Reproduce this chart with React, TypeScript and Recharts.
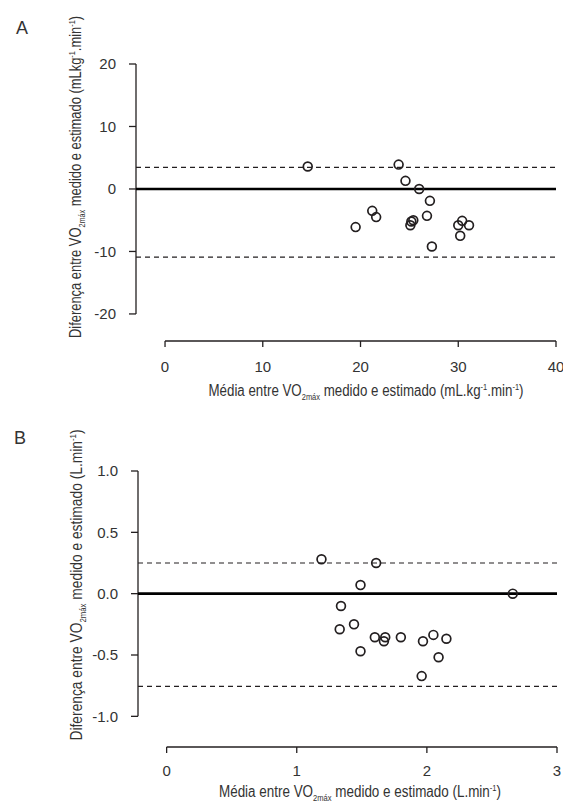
import React from "react";
import {
  ReferenceLine,
  Scatter,
  ScatterChart,
  XAxis,
  YAxis,
} from "recharts";

/* Bland-Altman: VO2max medido vs estimado. Painel A relativo, painel B absoluto. */

const FONT = '"Liberation Sans", Arial, sans-serif';
const INK = "#231f20";
const TEXT = "#333";

// Painel A (mL.kg-1.min-1)
const meanA = [14.6, 23.9, 24.6, 26.0, 27.1, 21.2, 21.6, 19.5, 26.8, 25.4, 25.2, 25.1, 27.3, 30.4, 30.0, 31.1, 30.2];
const diffA = [3.6, 3.9, 1.3, 0.0, -1.9, -3.5, -4.5, -6.1, -4.3, -5.0, -5.2, -5.8, -9.2, -5.1, -5.8, -5.8, -7.5];
const limitsA = [3.45, -10.9];
const xTicksA = [0, 10, 20, 30, 40];
const yTicksA = [-20, -10, 0, 10, 20];

// Painel B (L.min-1)
const meanB = [1.19, 1.61, 1.49, 2.66, 1.34, 1.33, 1.44, 1.49, 1.6, 1.67, 1.68, 1.8, 1.97, 2.05, 2.15, 2.09, 1.96];
const diffB = [0.28, 0.25, 0.07, 0.0, -0.1, -0.29, -0.25, -0.47, -0.355, -0.388, -0.355, -0.355, -0.388, -0.336, -0.368, -0.518, -0.672];
const limitsB = [0.25, -0.756];
const xTicksB = [0, 1, 2, 3];
const yTicksB = [-1.0, -0.5, 0.0, 0.5, 1.0];

const toPoints = (xs: number[], ys: number[]) => xs.map((x, i) => ({ x, y: ys[i] }));

const OpenCircle = (props: any) => (
  <circle cx={props.cx} cy={props.cy} r={4.4} fill="none" stroke={INK} strokeWidth={1.7} />
);

const tickStyle = { fill: TEXT, fontSize: 15, fontFamily: FONT };

function UnitTail({ unit }: { unit: "a" | "b" | "ay" }) {
  if (unit === "b") {
    return (
      <>
        <tspan>L.min</tspan>
        <tspan fontSize={9} dy={-6}>-1</tspan>
        <tspan dy={6}>)</tspan>
      </>
    );
  }
  return (
    <>
      <tspan>{unit === "ay" ? "mLkg" : "mL.kg"}</tspan>
      <tspan fontSize={9} dy={-6}>-1</tspan>
      <tspan dy={6}>.min</tspan>
      <tspan fontSize={9} dy={-6}>-1</tspan>
      <tspan dy={6}>)</tspan>
    </>
  );
}

function Title(props: {
  x: number;
  y: number;
  len: number;
  lead: string;
  unit: "a" | "b" | "ay";
  vertical?: boolean;
}) {
  const { x, y, len, lead, unit, vertical } = props;
  return (
    <text
      x={x}
      y={y}
      transform={vertical ? `rotate(-90, ${x}, ${y})` : undefined}
      textAnchor="middle"
      fill={TEXT}
      fontSize={16}
      fontFamily={FONT}
      textLength={len}
      lengthAdjust="spacingAndGlyphs"
    >
      <tspan>{lead} VO</tspan>
      <tspan fontSize={9} dy={4}>2máx</tspan>
      <tspan dy={-4}> medido e estimado (</tspan>
      <UnitTail unit={unit} />
    </text>
  );
}

function Panel(props: {
  height: number;
  top: number;
  right: number;
  yWidth: number;
  xDomain: [number, number];
  yDomain: [number, number];
  xTicks: number[];
  yTicks: number[];
  data: { x: number; y: number }[];
  limits: number[];
  xAxisHeight: number;
  xTickMargin: number;
  yFormat: (v: number) => string;
  xTitle: React.ReactNode;
  yTitle: React.ReactNode;
}) {
  const p = props;
  const yMin = p.yTicks[0];
  const yMax = p.yTicks[p.yTicks.length - 1];
  const xMin = p.xTicks[0];
  const xMax = p.xTicks[p.xTicks.length - 1];
  return (
    <ScatterChart
      width={563}
      height={p.height}
      margin={{ top: p.top, right: p.right, bottom: 0, left: 0 }}
    >
      <XAxis
        type="number"
        dataKey="x"
        domain={p.xDomain}
        ticks={p.xTicks}
        allowDataOverflow
        axisLine={false}
        tickLine={{ stroke: INK, strokeWidth: 1.3 }}
        tickSize={6}
        tickMargin={p.xTickMargin}
        tick={tickStyle}
        height={p.xAxisHeight}
        interval={0}
        label={{ content: () => p.xTitle }}
      />
      <YAxis
        type="number"
        dataKey="y"
        domain={p.yDomain}
        ticks={p.yTicks}
        allowDataOverflow
        axisLine={false}
        tickLine={{ stroke: INK, strokeWidth: 1.3 }}
        tickSize={7}
        tickMargin={13}
        tick={tickStyle}
        tickFormatter={p.yFormat}
        width={p.yWidth}
        interval={0}
        label={{ content: () => p.yTitle }}
      />
      {/* eixos deslocados, estilo R */}
      <ReferenceLine
        segment={[{ x: p.xDomain[0], y: yMin }, { x: p.xDomain[0], y: yMax }]}
        stroke={INK}
        strokeWidth={1.3}
        ifOverflow="visible"
      />
      <ReferenceLine
        segment={[{ x: xMin, y: p.yDomain[0] }, { x: xMax, y: p.yDomain[0] }]}
        stroke={INK}
        strokeWidth={1.3}
        ifOverflow="visible"
      />
      <ReferenceLine y={0} stroke="#000" strokeWidth={2.6} />
      {p.limits.map((v) => (
        <ReferenceLine key={v} y={v} stroke={INK} strokeWidth={1.2} strokeDasharray="5 4" />
      ))}
      <Scatter data={p.data} shape={OpenCircle} isAnimationActive={false} />
    </ScatterChart>
  );
}

export default function App() {
  return (
    <div
      style={{
        position: "absolute",
        left: 0,
        top: 0,
        width: 563,
        height: 810,
        background: "#fff",
        fontFamily: FONT,
      }}
    >
      <div style={{ position: "absolute", left: 16, top: 18, fontSize: 18, color: TEXT }}>A</div>
      <div style={{ position: "absolute", left: 14, top: 428, fontSize: 18, color: TEXT }}>B</div>
      <div style={{ position: "absolute", left: 0, top: 0 }}>
        <Panel
          height={410}
          top={64}
          right={7}
          yWidth={136}
          xDomain={[-2.97, 40]}
          yDomain={[-24.33, 20]}
          xTicks={xTicksA}
          yTicks={yTicksA}
          data={toPoints(meanA, diffA)}
          limits={limitsA}
          xAxisHeight={69}
          xTickMargin={14}
          yFormat={(v) => String(v)}
          xTitle={<Title x={366} y={396} len={315} lead="Média entre" unit="a" />}
          yTitle={<Title x={81} y={177} len={322} lead="Diferença entre" unit="ay" vertical />}
        />
      </div>
      <div style={{ position: "absolute", left: 0, top: 400 }}>
        <Panel
          height={410}
          top={71}
          right={6}
          yWidth={138}
          xDomain={[-0.22, 3]}
          yDomain={[-1.25, 1.0]}
          xTicks={xTicksB}
          yTicks={yTicksB}
          data={toPoints(meanB, diffB)}
          limits={limitsB}
          xAxisHeight={63}
          xTickMargin={12}
          yFormat={(v) => v.toFixed(1)}
          xTitle={<Title x={360} y={397} len={282} lead="Média entre" unit="b" />}
          yTitle={<Title x={82} y={185} len={311} lead="Diferença entre" unit="b" vertical />}
        />
      </div>
    </div>
  );
}
